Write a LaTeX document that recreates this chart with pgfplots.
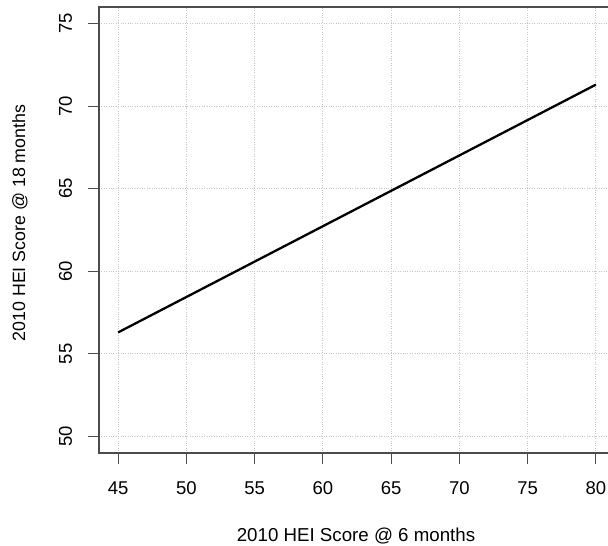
\documentclass[border=0pt]{standalone}
\usepackage{fontspec}
\setmainfont{Liberation Sans}
\usepackage{pgfplots}
\pgfplotsset{compat=1.18}
\begin{document}
\begin{tikzpicture}
\clip[use as bounding box] (0,0) rectangle (608bp,546bp);
\begin{axis}[
  at={(99bp,93bp)}, anchor=south west,
  scale only axis, width=516bp, height=446bp,
  xmin=43.6, xmax=81.4, ymin=49, ymax=76,
  xtick={45,50,...,80}, ytick={50,55,...,75},
  /pgf/number format/assume math mode=true,
  tick align=outside, major tick length=11bp,
  xtick pos=bottom, ytick pos=left,
  tick style={line width=1bp, color=black!70},
  axis line style={line width=1.2bp, color=black!70},
  grid=major,
  major grid style={dotted, line width=0.8bp, color=black!22},
  ticklabel style={font=\fontsize{18.5bp}{20bp}\selectfont},
  xticklabel style={anchor=base, yshift=-30bp},
  yticklabel style={rotate=90, anchor=base, yshift=16bp},
]
\addplot[black, line width=2.3bp] coordinates {(45,56.3) (80,71.3)};
\end{axis}
\node[anchor=base, font=\fontsize{18.7bp}{20bp}\selectfont] at (356bp,5bp) {2010 HEI Score @ 6 months};
\node[rotate=90, anchor=base, font=\fontsize{17.8bp}{20bp}\selectfont] at (25bp,323bp) {2010 HEI Score @ 18 months};
\end{tikzpicture}
\end{document}
